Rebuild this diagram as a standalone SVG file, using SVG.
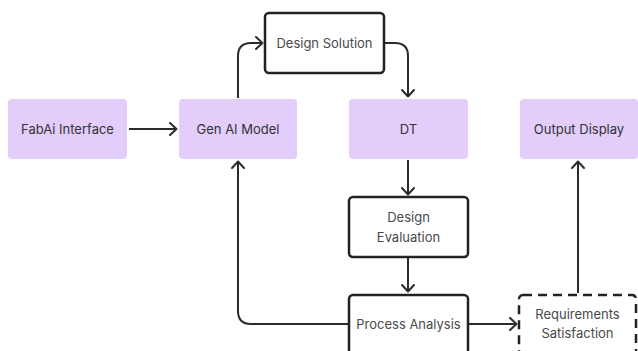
<svg xmlns="http://www.w3.org/2000/svg" width="638" height="351" viewBox="0 0 638 351">
  <defs>
    <marker id="chev" viewBox="0 0 12 14" refX="11" refY="7" markerWidth="12" markerHeight="14" markerUnits="userSpaceOnUse" orient="auto">
      <path d="M4,1 L10.5,7 L4,13" fill="none" stroke="#2b2b2b" stroke-width="2" stroke-linecap="round" stroke-linejoin="round"/>
    </marker>
    <style>
      .fill { fill: #e2cdfb; stroke: none; }
      .box { fill: #ffffff; stroke: #222222; stroke-width: 2.5; }
      .dash { fill: #ffffff; stroke: #222222; stroke-width: 2.5; stroke-dasharray: 9 6; }
      .lbl { font-family: Inter, "Liberation Sans", sans-serif; font-size: 13px; fill: #333333; text-anchor: middle; }
      .lbl.soft { fill: #4a4a4a; }
      .edge { fill: none; stroke: #2b2b2b; stroke-width: 2; marker-end: url(#chev); }
    </style>
  </defs>
  <rect width="638" height="351" fill="#ffffff"/>

  <g id="connectors">
    <path class="edge" d="M129,129 H177"/>
    <path class="edge" d="M238,98 V56 Q238,43 251,43 H263"/>
    <path class="edge" d="M385,43 H395 Q408,43 408,56 V97"/>
    <path class="edge" d="M408,160 V195"/>
    <path class="edge" d="M408,258 V292"/>
    <path class="edge" d="M348,324 H251 Q238,324 238,311 V161"/>
    <path class="edge" d="M469,324 H517"/>
    <path class="edge" d="M578,293 V161"/>
  </g>

  <g id="fabai-interface">
    <rect class="fill" x="8" y="99" width="119" height="60" rx="4"/>
    <text class="lbl" x="67.5" y="133.5">FabAi Interface</text>
  </g>
  <g id="gen-ai-model">
    <rect class="fill" x="179" y="99" width="118" height="60" rx="4"/>
    <text class="lbl" x="238" y="133.5">Gen AI Model</text>
  </g>
  <g id="design-solution">
    <rect class="box" x="265" y="13" width="119" height="60" rx="4"/>
    <text class="lbl soft" x="324.5" y="47.5">Design Solution</text>
  </g>
  <g id="dt">
    <rect class="fill" x="349" y="99" width="119" height="60" rx="4"/>
    <text class="lbl" x="408.5" y="133.5">DT</text>
  </g>
  <g id="output-display">
    <rect class="fill" x="520" y="99" width="118" height="60" rx="4"/>
    <text class="lbl" x="579" y="133.5">Output Display</text>
  </g>
  <g id="design-evaluation">
    <rect class="box" x="349" y="197" width="119" height="60" rx="4"/>
    <text class="lbl soft" x="408.5" y="221.5">Design</text>
    <text class="lbl soft" x="408.5" y="241.5">Evaluation</text>
  </g>
  <g id="process-analysis">
    <rect class="box" x="349" y="295" width="119" height="70" rx="4"/>
    <text class="lbl soft" x="408.5" y="328.5">Process Analysis</text>
  </g>
  <g id="requirements-satisfaction">
    <rect class="dash" x="519" y="295" width="117" height="70" rx="4"/>
    <text class="lbl soft" x="577.5" y="318.5">Requirements</text>
    <text class="lbl soft" x="577.5" y="337.5">Satisfaction</text>
  </g>
</svg>
